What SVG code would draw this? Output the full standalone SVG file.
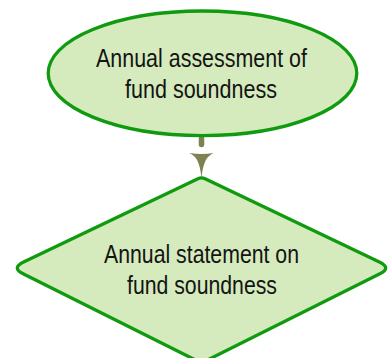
<svg xmlns="http://www.w3.org/2000/svg" width="388" height="358" viewBox="0 0 388 358">
  <style>
    .shape { fill: #d5ebbd; stroke: #109a10; stroke-width: 3.3; }
    .label { font-family: "Liberation Sans Narrow", "Liberation Sans", Arial, sans-serif; font-size: 25.5px; fill: #141414; text-anchor: middle; }
    .conn { stroke: #7f8151; stroke-width: 5.5; stroke-linecap: round; fill: none; }
  </style>
  <defs>
    <marker id="arrow" markerUnits="userSpaceOnUse" markerWidth="30" markerHeight="30" viewBox="-2 -13 28 26" refX="0" refY="0" orient="auto">
      <path d="M0,-11.5 C2.5,-5 9,-1.2 24,0 C9,1.2 2.5,5 0,11.5 Q1.8,0 0,-11.5 Z" fill="#7f8151"/>
    </marker>
  </defs>
  <rect width="388" height="358" fill="#ffffff"/>
  <g id="connectors">
    <line class="conn" x1="201.5" y1="138.8" x2="201.5" y2="153" stroke-dasharray="5.6 100" marker-end="url(#arrow)"/>
  </g>
  <g id="node-assessment">
    <ellipse class="shape" cx="202.5" cy="73.3" rx="154.3" ry="62.3"/>
    <text class="label" x="201.5" y="67" textLength="211" lengthAdjust="spacingAndGlyphs">Annual assessment of</text>
    <text class="label" x="201" y="98" textLength="152" lengthAdjust="spacingAndGlyphs">fund soundness</text>
  </g>
  <g id="node-statement">
    <path class="shape" d="M197.9,178.8 Q201.5,177 205.1,178.8 L379.4,261.9 Q392,268 379.4,274.1 L205.1,361.2 Q201.5,363 197.9,361.2 L23.6,274.1 Q11,268 23.6,261.9 Z"/>
    <text class="label" x="201.5" y="262.5" textLength="195" lengthAdjust="spacingAndGlyphs">Annual statement on</text>
    <text class="label" x="202" y="293.5" textLength="150" lengthAdjust="spacingAndGlyphs">fund soundness</text>
  </g>
</svg>
